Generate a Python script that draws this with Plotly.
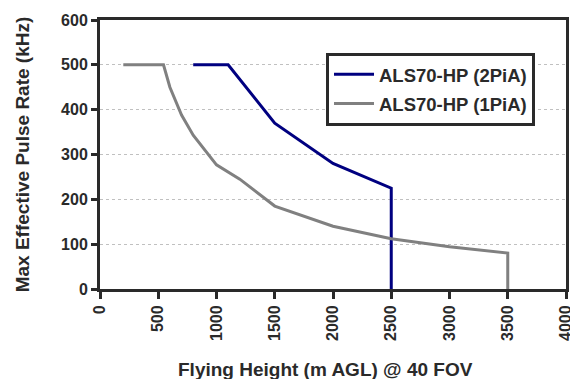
import plotly.graph_objects as go

# Data
x_2pia = [800, 1100, 1500, 2000, 2500, 2500]
y_2pia = [500, 500, 370, 280, 225, 0]
x_1pia = [200, 545, 600, 700, 800, 1000, 1200, 1500, 2000, 2500, 3000, 3500, 3500]
y_1pia = [500, 500, 450, 388, 343, 277, 245, 185, 140, 112, 94, 80, 0]
x_ticks = [0, 500, 1000, 1500, 2000, 2500, 3000, 3500, 4000]
y_ticks = [0, 100, 200, 300, 400, 500, 600]

FONT = "Liberation Sans, Arial, sans-serif"
TXT = "#2a2a2a"

fig = go.Figure()
fig.add_trace(go.Scatter(x=x_2pia, y=y_2pia, mode="lines", name="ALS70-HP (2PiA)",
                         line=dict(color="#000080", width=3), legendgroup="a"))
fig.add_trace(go.Scatter(x=x_1pia, y=y_1pia, mode="lines", name="ALS70-HP (1PiA)",
                         line=dict(color="#808080", width=3), legendgroup="b"))

fig.update_layout(
    width=570, height=379,
    margin=dict(l=100, r=4, t=20, b=90),
    paper_bgcolor="white", plot_bgcolor="white",
    font=dict(family=FONT, color=TXT),
    showlegend=True,
    legend=dict(x=0.485, y=0.878, xanchor="left", yanchor="top",
                bgcolor="white", bordercolor="#2a2a2a", borderwidth=3,
                font=dict(size=18.5, family=FONT, color=TXT, weight="bold"),
                itemwidth=40,
                traceorder="grouped", tracegroupgap=2),
    annotations=[dict(text="Flying Height (m AGL) @ 40 FOV", xref="paper", yref="paper",
                      x=0.483, y=-0.30, xanchor="center", yanchor="middle",
                      showarrow=False,
                      font=dict(size=19, family=FONT, color=TXT, weight="bold"))],
)
fig.update_xaxes(range=[0, 4000], tickvals=x_ticks, ticktext=[str(v) for v in x_ticks],
                 tickangle=-90, showgrid=False, zeroline=False, automargin=False,
                 ticklabeloverflow="allow",
                 showline=True, linecolor="#2a2a2a", linewidth=3, mirror=True,
                 ticks="outside", ticklen=7, tickwidth=3, tickcolor="#2a2a2a",
                 tickfont=dict(size=16, family=FONT, color=TXT, weight="bold"))
fig.update_yaxes(range=[0, 600], tickvals=y_ticks, showgrid=True, automargin=False,
                 gridcolor="#c0c0c0", griddash="dot", gridwidth=1, zeroline=False,
                 showline=True, linecolor="#2a2a2a", linewidth=3, mirror=True,
                 ticks="outside", ticklen=6, tickwidth=3, tickcolor="#2a2a2a",
                 tickfont=dict(size=16, family=FONT, color=TXT, weight="bold"),
                 title=dict(text="Max Effective Pulse Rate (kHz)", standoff=27,
                            font=dict(size=19, family=FONT, color=TXT, weight="bold")))

fig.write_html("out.html")
